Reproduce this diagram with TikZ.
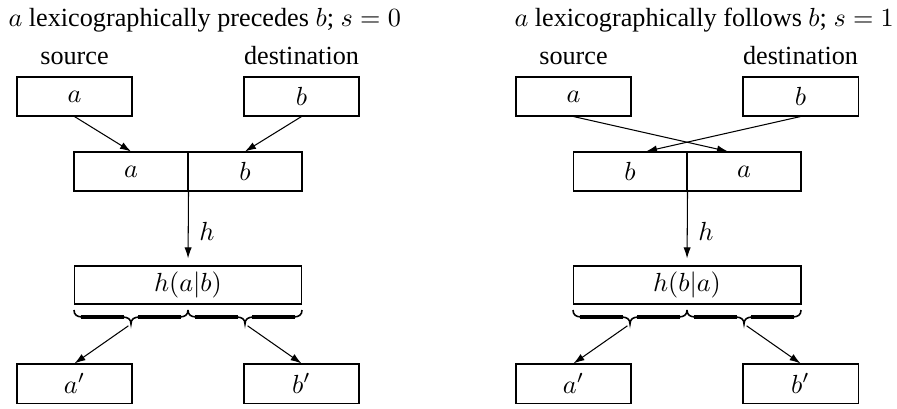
\documentclass[tikz,border=0pt]{standalone}
\usepackage[no-math]{fontspec}
\setmainfont{Liberation Serif}
\usetikzlibrary{arrows.meta,calc}
\tikzset{
 box/.style={draw, inner sep=0pt, minimum width=43.9pt, minimum height=14.9pt},
 half/.style={draw, inner sep=0pt, minimum width=43.5pt, minimum height=14.9pt},
 wide/.style={draw, inner sep=0pt, minimum width=87pt, minimum height=14.5pt},
 lbl/.style={inner sep=0pt, anchor=base},
 arr/.style={-{Latex[length=4.2pt,width=2.8pt]}},
 hbrace/.pic={
  \draw[line width=0.6pt] (0,0) .. controls (0,5) and (3,7) .. (9,7) -- (48,7)
     .. controls (54,7) and (57,9) .. (57,14)
     .. controls (57,9) and (60,7) .. (66,7) -- (105,7)
     .. controls (111,7) and (114,5) .. (114,0);
  \draw[line width=1.4pt] (7,7) -- (50,7) (64,7) -- (107,7);
  \coordinate (-tip) at (57,14);
 },
}
\begin{document}
\begin{tikzpicture}[x=0.3817pt,y=-0.3817pt]
\useasboundingbox (0,0) rectangle (897,408);
% ---------- left panel ----------
\node[lbl, anchor=base west] (T1) at (8,27) {$a$ lexicographically precedes $b$; $s=0$};
\node[lbl] (S1) at (74.5,65) {source};
\node[lbl] (D1) at (301.5,65) {destination};
\node[box] (A1) at (74.5,96.5) {$a$};
\node[box] (B1) at (301.5,96.5) {$b$};
\node[half] (L1) at (131,171.5) {$a$};
\node[half] (R1) at (245,171.5) {$b$};
\node[wide] (H1) at (188,285) {$h(a|b)$};
\pic (BL1) at (74,310) {hbrace};
\pic (BR1) at (188,310) {hbrace};
\node[box] (P1) at (74.5,383.5) {$a'$};
\node[box] (Q1) at (301.5,383.5) {$b'$};
\node[inner sep=0pt] (HL1) at (207,231) {$h$};
\draw[arr] (A1.south) -- (L1.north);
\draw[arr] (B1.south) -- (R1.north);
\draw[arr, shorten >=2.7pt] (L1.south east) -- (H1.north);
\draw[arr, shorten <=1.2pt] (BL1-tip) -- (P1.north);
\draw[arr, shorten <=1.2pt] (BR1-tip) -- (Q1.north);
% ---------- right panel ----------
\node[lbl, anchor=base west] (T2) at (514,27) {$a$ lexicographically follows $b$; $s=1$};
\node[lbl] (S2) at (573.5,65) {source};
\node[lbl] (D2) at (800.5,65) {destination};
\node[box] (A2) at (573.5,96.5) {$a$};
\node[box] (B2) at (800.5,96.5) {$b$};
\node[half] (L2) at (630,171.5) {$b$};
\node[half] (R2) at (744,171.5) {$a$};
\node[wide] (H2) at (687,285) {$h(b|a)$};
\pic (BL2) at (573,310) {hbrace};
\pic (BR2) at (687,310) {hbrace};
\node[box] (P2) at (573.5,383.5) {$a'$};
\node[box] (Q2) at (800.5,383.5) {$b'$};
\node[inner sep=0pt] (HL2) at (706,231) {$h$};
\draw[arr] (A2.south) -- ($(R2.north)+(-16,0)$);
\draw[arr] (B2.south) -- ($(L2.north)+(16,0)$);
\draw[arr, shorten >=2.7pt] (L2.south east) -- (H2.north);
\draw[arr, shorten <=1.2pt] (BL2-tip) -- (P2.north);
\draw[arr, shorten <=1.2pt] (BR2-tip) -- (Q2.north);
\end{tikzpicture}
\end{document}
